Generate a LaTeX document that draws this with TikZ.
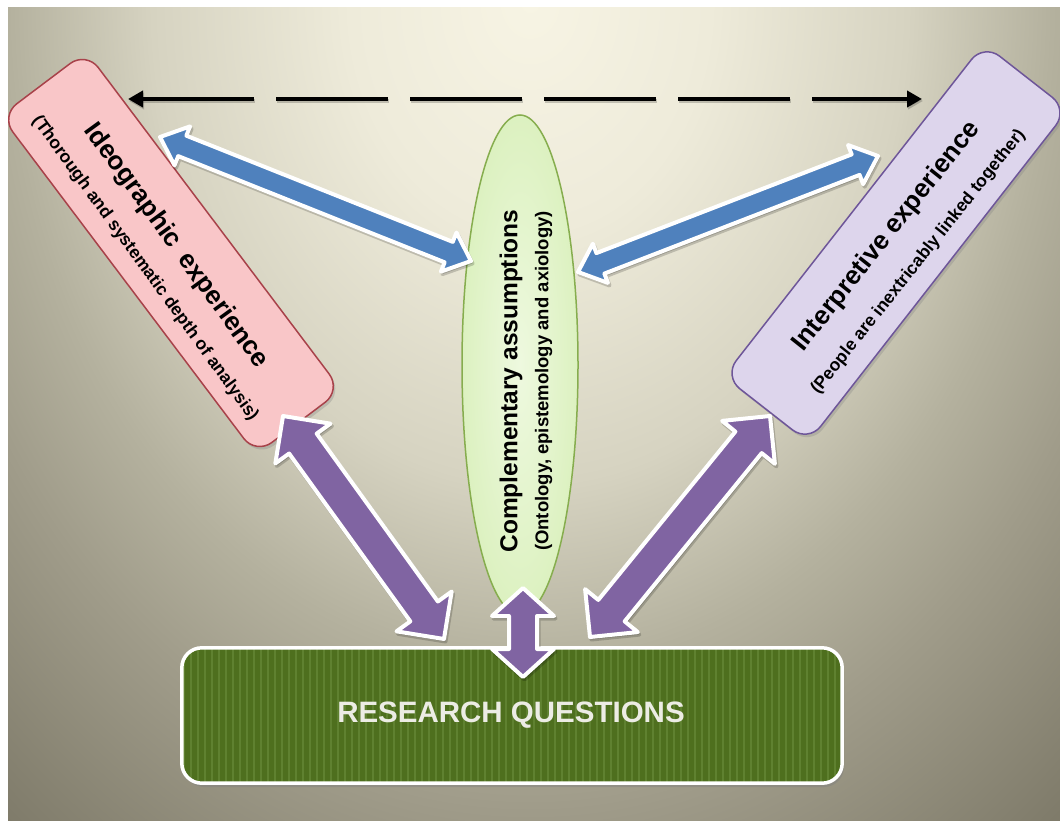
\documentclass[tikz,border=0pt]{standalone}
\usepackage{fontspec}
\setmainfont{Liberation Sans}
\usetikzlibrary{calc,arrows.meta,shadows,shapes.geometric}

% background glow
\definecolor{bgA}{HTML}{F7F4E4}
\definecolor{bgB}{HTML}{EEEBDA}
\definecolor{bgC}{HTML}{D6D3C1}
\definecolor{bgD}{HTML}{B4B19E}
\definecolor{bgE}{HTML}{A09C8A}
\definecolor{bgF}{HTML}{7F7B6A}
\definecolor{bgG}{HTML}{7A7665}
% boxes
\definecolor{pinkfill}{HTML}{F9C6C8}
\definecolor{pinkline}{HTML}{A8424A}
\definecolor{lilacfill}{HTML}{DDD5EC}
\definecolor{lilacline}{HTML}{6E5699}
\definecolor{ellin}{HTML}{EEF9DF}
\definecolor{ellout}{HTML}{DCF1C0}
\definecolor{ellline}{HTML}{86AD4E}
\definecolor{rqgreen}{HTML}{4E6F1E}
\definecolor{rqstripe}{HTML}{5F8130}
\definecolor{rqtext}{HTML}{ECECE4}
% arrows
\definecolor{arrblue}{HTML}{4F81BD}
\definecolor{arrpurple}{HTML}{8064A2}

% the central 50bp x 50bp of a shading is what gets stretched over the path
\pgfdeclareradialshading{bgglow}{\pgfpoint{0bp}{0bp}}{color(0bp)=(bgA); color(5bp)=(bgB); color(10.5bp)=(bgC); color(14.5bp)=(bgD); color(17.5bp)=(bgE); color(23bp)=(bgF); color(25bp)=(bgG); color(50bp)=(bgG)}

% double-headed block arrow: #1 style, #2 from, #3 to,
% #4 shaft half width, #5 head half width, #6 head length
\newcommand\blockarrow[6]{%
  \path[#1] (#2)
    -- ($($(#2)!#6!(#3)$)!#5!90:(#3)$)
    -- ($($(#2)!#6!(#3)$)!#4!90:(#3)$)
    -- ($($(#3)!#6!(#2)$)!#4!90:(#3)$)
    -- ($($(#3)!#6!(#2)$)!#5!90:(#3)$)
    -- (#3)
    -- ($($(#3)!#6!(#2)$)!#5!-90:(#3)$)
    -- ($($(#3)!#6!(#2)$)!#4!-90:(#3)$)
    -- ($($(#2)!#6!(#3)$)!#4!-90:(#3)$)
    -- ($($(#2)!#6!(#3)$)!#5!-90:(#3)$)
    -- cycle;}

\begin{document}
\begin{tikzpicture}[x=1pt,y=-1pt,
  slab/.style={rounded corners=20pt, line width=1.5pt, inner sep=0pt,
    drop shadow={shadow xshift=2pt, shadow yshift=-3pt, opacity=0.3}},
  slabtext/.style={align=center, inner sep=0pt,
    font=\fontsize{17.5}{#1}\selectfont\bfseries},
  rqbox/.style={rounded corners=20pt, fill=rqgreen, inner sep=0pt,
    drop shadow={shadow xshift=2pt, shadow yshift=-4pt, opacity=0.45}},
  arrowline/.style={draw=white, line width=4pt, line join=round},
  bluearrow/.style={arrowline, fill=arrblue},
  purplearrow/.style={arrowline, fill=arrpurple},
  arrowshade/.style={draw=black, fill=black, line width=4pt, line join=round,
    draw opacity=0.18, fill opacity=0.18, transform canvas={shift={(1.5pt,-2.5pt)}}},
  dasharrow/.style={line width=4pt, dash pattern=on 112pt off 22pt,
    {Triangle[length=15pt,width=16pt]}-{Triangle[length=15pt,width=16pt]}}
]
\useasboundingbox (0,0) rectangle (1060,821);
\fill[white] (0,0) rectangle (1060,821);

% backdrop
\fill[bgG] (8,8) rectangle (1060,821);
\begin{scope}
  \clip (8,8) rectangle (1060,821);
  \shade[shading=bgglow] (530,0) ellipse [x radius=900pt, y radius=1150pt];

  % side boxes
  \node[slab, fill=pinkfill, draw=pinkline, minimum width=424pt,
        minimum height=107pt, rotate=-53] (ideo) at (171,253) {};
  \node[slab, fill=lilacfill, draw=lilacline, minimum width=422pt,
        minimum height=107pt, rotate=52] (interp) at (896,243) {};
\end{scope}

\node[slabtext=36pt, rotate=-54] (ideoT) at (162,256)
  {{\fontsize{26}{30}\selectfont Ideographic\hspace{5pt} experience}\\
   (Thorough and systematic depth of analysis)};

\node[slabtext=38.5pt, rotate=51.5] (interpT) at (901,248)
  {{\fontsize{26}{30}\selectfont Interpretive experience}\\
   (People are inextricably linked together)};

% central ellipse
\node[ellipse, minimum width=116pt, minimum height=500pt, inner sep=0pt,
      draw=ellline, line width=1.5pt, inner color=ellin, outer color=ellout]
      (ell) at (520,365) {};
\node[align=center, inner sep=0pt, font=\fontsize{18.5}{31}\selectfont\bfseries,
      rotate=90] (ellT) at (526,381)
  {{\fontsize{24.5}{28}\selectfont Complementary assumptions}\\
   (Ontology, epistemology and axiology)};

% research questions bar
\node[rqbox, minimum width=660pt, minimum height=135pt] (rq) at (512,715.5) {};
\begin{scope}
  \clip[rounded corners=20pt] (rq.south west) rectangle (rq.north east);
  \foreach \k in {0,...,95}
    \draw[rqstripe, line width=2pt] (184+7*\k,640) -- (184+7*\k,790);
\end{scope}
\draw[white, line width=3.5pt, rounded corners=20pt] (rq.south west) rectangle (rq.north east);
\node[font=\fontsize{29.5}{32}\selectfont\bfseries, text=rqtext] (rqT) at (511,715)
      {RESEARCH QUESTIONS};

% arrow end points
\coordinate (dl) at (128,99);
\coordinate (dr) at (922,99);
\coordinate (bl1) at (160,137);
\coordinate (bl2) at (471,261);
\coordinate (br1) at (578,272);
\coordinate (br2) at (878,156);
\coordinate (pl1) at (283,416);
\coordinate (pl2) at (444,639);
\coordinate (pr1) at (770,416);
\coordinate (pr2) at (590,637);
\coordinate (pv1) at (523,588);
\coordinate (pv2) at (523,677);

% dashed link between the two experiences
\draw[dasharrow, black, opacity=0.2, transform canvas={shift={(1pt,-2pt)}}] (dl) -- (dr);
\draw[dasharrow, black] (dl) -- (dr);

% block arrows
\blockarrow{arrowshade}{bl1}{bl2}{11pt}{21pt}{24pt}
\blockarrow{bluearrow}{bl1}{bl2}{11pt}{21pt}{24pt}
\blockarrow{arrowshade}{br1}{br2}{11pt}{21pt}{24pt}
\blockarrow{bluearrow}{br1}{br2}{11pt}{21pt}{24pt}
\blockarrow{arrowshade}{pl1}{pl2}{17pt}{34pt}{34pt}
\blockarrow{purplearrow}{pl1}{pl2}{17pt}{34pt}{34pt}
\blockarrow{arrowshade}{pr1}{pr2}{17pt}{34pt}{34pt}
\blockarrow{purplearrow}{pr1}{pr2}{17pt}{34pt}{34pt}
\blockarrow{arrowshade}{pv1}{pv2}{14pt}{31pt}{28pt}
\blockarrow{purplearrow}{pv1}{pv2}{14pt}{31pt}{28pt}
\end{tikzpicture}
\end{document}
